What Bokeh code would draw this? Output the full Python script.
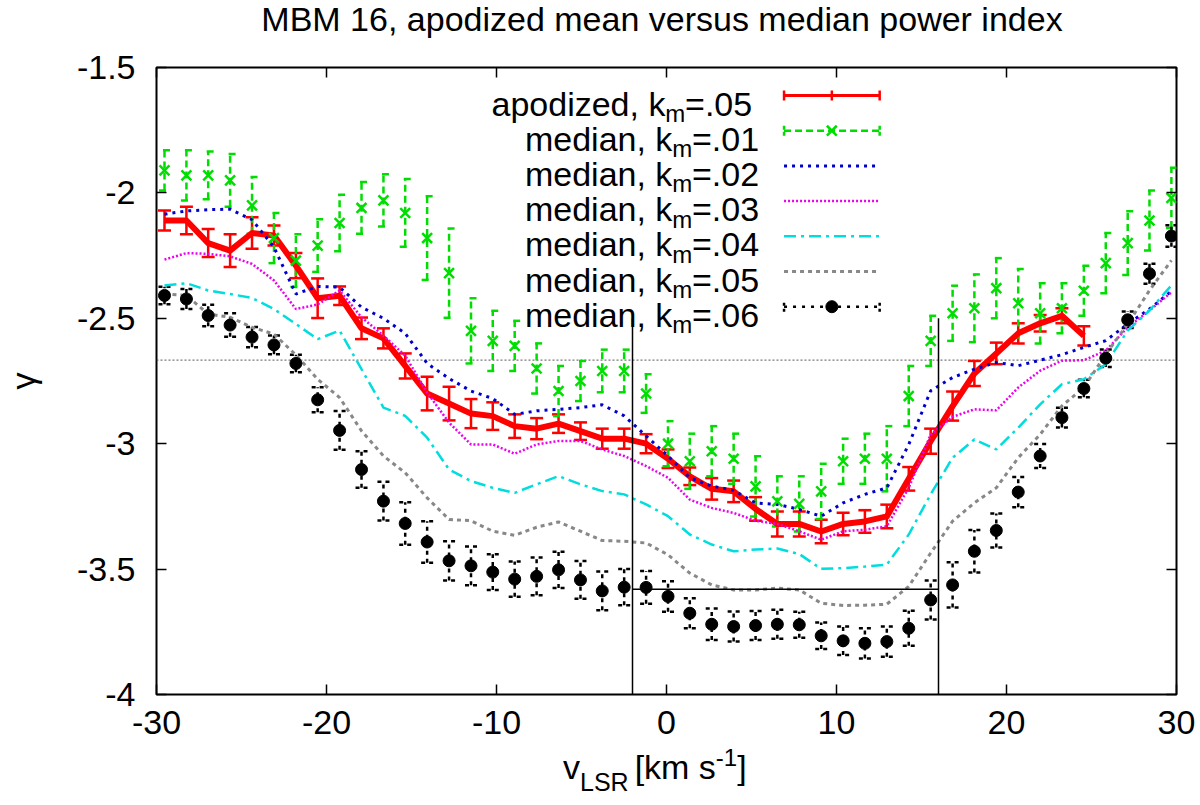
import numpy as np

from bokeh.plotting import figure
from bokeh.layouts import column
from bokeh.models import (ColumnDataSource, FixedTicker, LinearAxis, Range1d,
                          Span, Label, Whisker, TeeHead, Div)
from bokeh.embed import file_html
from bokeh.resources import INLINE

# channel velocities, km/s
v_lsr = [-29.53, -28.24, -26.96, -25.67, -24.38, -23.09, -21.80, -20.52, -19.23, -17.94,
         -16.65, -15.37, -14.08, -12.79, -11.50, -10.22, -8.93, -7.64, -6.35, -5.06,
         -3.78, -2.49, -1.20, 0.09, 1.37, 2.66, 3.95, 5.24, 6.52, 7.81,
         9.10, 10.39, 11.67, 12.96, 14.25, 15.54, 16.83, 18.11, 19.40, 20.69,
         21.98, 23.26, 24.55, 25.84, 27.13, 28.41, 29.70]

# apodized mean, k_m=.05 (stops at ~24.5 km/s)
gamma_apod = [-2.11, -2.11, -2.20, -2.23, -2.16, -2.17, -2.29, -2.42, -2.41, -2.54,
              -2.58, -2.69, -2.80, -2.84, -2.88, -2.89, -2.93, -2.94, -2.92, -2.95,
              -2.98, -2.98, -3.00, -3.06, -3.13, -3.18, -3.19, -3.26, -3.32, -3.32,
              -3.35, -3.32, -3.31, -3.29, -3.14, -2.99, -2.85, -2.72, -2.64, -2.56,
              -2.52, -2.49, -2.57]
err_apod = [0.040, 0.055, 0.056, 0.065, 0.063, 0.040, 0.050, 0.079, 0.037, 0.043,
            0.040, 0.050, 0.067, 0.067, 0.058, 0.055, 0.047, 0.042, 0.037, 0.035,
            0.040, 0.040, 0.038, 0.037, 0.035, 0.043, 0.043, 0.047, 0.050, 0.050,
            0.047, 0.045, 0.045, 0.047, 0.047, 0.050, 0.058, 0.050, 0.043, 0.040,
            0.033, 0.030, 0.038]

# median, k_m=.01 .. .06
gamma_k01 = [-1.91, -1.93, -1.93, -1.95, -2.05, -2.18, -2.27, -2.21, -2.12, -2.06,
             -2.03, -2.08, -2.18, -2.32, -2.55, -2.59, -2.61, -2.70, -2.79, -2.75,
             -2.71, -2.71, -2.80, -3.00, -3.07, -3.03, -3.06, -3.17, -3.23, -3.24,
             -3.19, -3.07, -3.06, -3.06, -2.81, -2.59, -2.48, -2.46, -2.38, -2.44,
             -2.48, -2.46, -2.39, -2.28, -2.20, -2.11, -2.02]
err_k01 = [0.080, 0.100, 0.095, 0.105, 0.113, 0.100, 0.105, 0.105, 0.113, 0.103,
           0.104, 0.135, 0.167, 0.178, 0.130, 0.120, 0.100, 0.100, 0.100, 0.080,
           0.085, 0.085, 0.077, 0.090, 0.110, 0.100, 0.100, 0.120, 0.100, 0.110,
           0.110, 0.090, 0.100, 0.130, 0.120, 0.100, 0.110, 0.135, 0.120, 0.137,
           0.120, 0.100, 0.100, 0.120, 0.127, 0.120, 0.120]
gamma_k02 = [-2.085, -2.072, -2.067, -2.065, -2.107, -2.216, -2.403, -2.373, -2.376, -2.456,
             -2.500, -2.560, -2.680, -2.740, -2.790, -2.820, -2.883, -2.869, -2.863, -2.856,
             -2.845, -2.889, -2.969, -3.049, -3.136, -3.169, -3.186, -3.236, -3.242, -3.262,
             -3.289, -3.236, -3.202, -3.176, -3.003, -2.789, -2.736, -2.703, -2.676, -2.689,
             -2.667, -2.645, -2.616, -2.589, -2.523, -2.463, -2.392]
gamma_k03 = [-2.266, -2.240, -2.243, -2.253, -2.283, -2.349, -2.463, -2.445, -2.389, -2.496,
             -2.569, -2.649, -2.796, -2.916, -3.003, -3.003, -3.040, -3.003, -2.989, -2.989,
             -3.023, -3.049, -3.089, -3.136, -3.223, -3.256, -3.276, -3.307, -3.320, -3.349,
             -3.383, -3.349, -3.343, -3.329, -3.176, -2.963, -2.893, -2.863, -2.867, -2.776,
             -2.709, -2.669, -2.667, -2.629, -2.536, -2.469, -2.396]
gamma_k04 = [-2.369, -2.360, -2.389, -2.403, -2.419, -2.463, -2.523, -2.583, -2.549, -2.703,
             -2.856, -2.889, -2.976, -3.103, -3.149, -3.176, -3.196, -3.162, -3.129, -3.162,
             -3.189, -3.202, -3.242, -3.289, -3.362, -3.402, -3.429, -3.422, -3.418, -3.440,
             -3.499, -3.496, -3.490, -3.482, -3.362, -3.202, -3.056, -2.983, -3.023, -2.936,
             -2.843, -2.763, -2.743, -2.683, -2.549, -2.469, -2.369]
gamma_k05 = [-2.403, -2.409, -2.483, -2.496, -2.536, -2.563, -2.646, -2.743, -2.816, -2.949,
             -3.049, -3.116, -3.216, -3.302, -3.307, -3.349, -3.365, -3.333, -3.312, -3.349,
             -3.386, -3.389, -3.396, -3.443, -3.516, -3.563, -3.583, -3.583, -3.576, -3.583,
             -3.636, -3.645, -3.644, -3.640, -3.569, -3.436, -3.309, -3.236, -3.176, -3.056,
             -2.963, -2.849, -2.776, -2.643, -2.523, -2.389, -2.269]
gamma_k06 = [-2.409, -2.423, -2.489, -2.527, -2.575, -2.606, -2.680, -2.825, -2.947, -3.103,
             -3.229, -3.318, -3.392, -3.467, -3.487, -3.512, -3.540, -3.529, -3.503, -3.543,
             -3.587, -3.572, -3.573, -3.609, -3.676, -3.720, -3.729, -3.725, -3.720, -3.722,
             -3.766, -3.786, -3.796, -3.789, -3.736, -3.623, -3.563, -3.429, -3.346, -3.193,
             -3.049, -2.896, -2.780, -2.659, -2.506, -2.322, -2.172]
err_k06 = [0.035, 0.040, 0.043, 0.047, 0.040, 0.037, 0.035, 0.050, 0.077, 0.073,
           0.077, 0.085, 0.083, 0.078, 0.077, 0.071, 0.070, 0.075, 0.072, 0.075,
           0.077, 0.072, 0.065, 0.061, 0.060, 0.063, 0.060, 0.058, 0.058, 0.052,
           0.053, 0.057, 0.060, 0.060, 0.070, 0.078, 0.090, 0.085, 0.068, 0.060,
           0.048, 0.039, 0.035, 0.035, 0.033, 0.040, 0.043]

x_ticks = [-30, -20, -10, 0, 10, 20, 30]
y_ticks = [-4, -3.5, -3, -2.5, -2, -1.5]
y_tick_labels = ["-4", "-3.5", "-3", "-2.5", "-2", "-1.5"]

gamma_kolmogorov = -8 / 3
window_v = [-2, 16]
window_top = -2.5
window_floor = -3.58

legend_texts = [("apodized, k", "m", "=.05"), ("median, k", "m", "=.01"),
                ("median, k", "m", "=.02"), ("median, k", "m", "=.03"),
                ("median, k", "m", "=.04"), ("median, k", "m", "=.05"),
                ("median, k", "m", "=.06")]

RED, GREEN, BLUE, MAGENTA, CYAN, GREY = "#ff0000", "#00dd00", "#0000cc", "#ee00ee", "#00dddd", "#888888"
FONT = "Liberation Sans"

X0, X1, Y0, Y1 = -30, 30, -4, -1.5
# frame position on the page, used only to place the key
FRAME_L, FRAME_T, FRAME_W, FRAME_H = 152, 67, 1024, 627
TITLE_H = 40


def dx(px):
    return X0 + (px - FRAME_L) * (X1 - X0) / FRAME_W


def dy(py):
    return Y1 - (py - FRAME_T) * (Y1 - Y0) / FRAME_H


p = figure(width=1200, height=712, x_range=Range1d(X0, X1), y_range=Range1d(Y0, Y1),
           output_backend="svg", toolbar_location=None, tools="",
           min_border_left=152, min_border_right=24, min_border_top=FRAME_T - TITLE_H,
           min_border_bottom=58)
p.outline_line_color = "black"
p.outline_line_width = 2
p.xgrid.grid_line_color = None
p.ygrid.grid_line_color = None

p.xaxis.ticker = FixedTicker(ticks=x_ticks)
p.xaxis.major_label_overrides = {t: str(t) for t in x_ticks}
p.xaxis.major_label_standoff = 16
p.yaxis.ticker = FixedTicker(ticks=y_ticks)
p.yaxis.major_label_overrides = dict(zip(y_ticks, y_tick_labels))
p.yaxis.major_label_standoff = 21
p.yaxis.axis_label = "\u03b3"
p.yaxis.axis_label_text_font = FONT
p.yaxis.axis_label_text_font_size = "34px"
p.yaxis.axis_label_text_font_style = "normal"
p.yaxis.axis_label_text_color = "black"
p.yaxis.axis_label_standoff = 32
for ax in (p.xaxis, p.yaxis):
    ax.major_label_text_font = FONT
    ax.major_label_text_font_size = "34px"
    ax.major_label_text_color = "black"
    ax.axis_line_color = None
    ax.major_tick_in = 10
    ax.major_tick_out = 0
    ax.major_tick_line_color = "black"
    ax.major_tick_line_width = 1.5
    ax.minor_tick_line_color = None

# mirrored ticks on top and right, no labels
for side, ticks in (("above", x_ticks), ("right", y_ticks)):
    ax = LinearAxis(ticker=FixedTicker(ticks=ticks), axis_line_color=None,
                    major_tick_in=10, major_tick_out=0, major_tick_line_width=1.5,
                    minor_tick_line_color=None, major_label_text_font_size="0px",
                    major_label_text_color=None, major_label_standoff=0,
                    major_label_overrides={t: "" for t in ticks})
    p.add_layout(ax, side)

p.add_layout(Span(location=gamma_kolmogorov, dimension="width", line_color="#555555",
                  line_width=1, line_dash="2 2", level="underlay"))

# error bars
v = np.array(v_lsr)
n_apod = len(gamma_apod)
src_apod = ColumnDataSource(dict(v=v[:n_apod], g=gamma_apod,
                                 lo=np.array(gamma_apod) - np.array(err_apod),
                                 hi=np.array(gamma_apod) + np.array(err_apod)))
src_k01 = ColumnDataSource(dict(v=v, g=gamma_k01,
                                lo=np.array(gamma_k01) - np.array(err_k01),
                                hi=np.array(gamma_k01) + np.array(err_k01)))
src_k06 = ColumnDataSource(dict(v=v, g=gamma_k06,
                                lo=np.array(gamma_k06) - np.array(err_k06),
                                hi=np.array(gamma_k06) + np.array(err_k06)))


def bars(src, color, width, dash, cap):
    head = dict(size=cap, line_color=color, line_width=width, line_dash=dash)
    p.add_layout(Whisker(source=src, base="v", lower="lo", upper="hi", dimension="height",
                         line_color=color, line_width=width, line_dash=dash,
                         lower_head=TeeHead(**head), upper_head=TeeHead(**head)))


bars(src_apod, RED, 2.5, "solid", 13)
bars(src_k01, GREEN, 2.5, "7 4", 11)
bars(src_k06, "black", 2.5, "4 4", 12)

# lines
p.line("v", "g", source=src_apod, line_color=RED, line_width=6, line_join="round")
styles = [(gamma_k02, BLUE, 3, "3 5"), (gamma_k03, MAGENTA, 2.5, "2 2"),
          (gamma_k04, CYAN, 2.5, "12 5 3 5"), (gamma_k05, GREY, 3, "4 4")]
for g, c, w, d in styles:
    p.line(v_lsr, g, line_color=c, line_width=w, line_dash=d)

# velocity window used for the fit
p.segment(x0=[window_v[0], window_v[1], window_v[0]], y0=[Y0, Y0, window_floor],
          x1=[window_v[0], window_v[1], window_v[1]], y1=[window_top, window_top, window_floor],
          line_color="black", line_width=1.5)

p.scatter("v", "g", source=src_k01, marker="x", size=14, line_color=GREEN, line_width=2.5)
p.scatter("v", "g", source=src_k06, marker="circle", size=12, fill_color="black",
          line_color="black")


def add_text(px, py, text, size, align="left"):
    p.add_layout(Label(x=dx(px), y=dy(py), text=text, text_font=FONT,
                       text_font_size=f"{size}px", text_align=align,
                       text_baseline="alphabetic", text_color="black"))


# key, drawn by hand for the subscripts
ROW0, ROW_STEP = 95, 35.2
S0, S1, SM = 782, 878, 830
W_TAIL = 1.974 * 34   # width of "=.05"
W_SUB = 0.833 * 24    # width of subscript "m"
for k, (head, sub, tail) in enumerate(legend_texts):
    r = ROW0 + k * ROW_STEP
    right = 750 if k == 0 else 757
    add_text(right, r + 8, tail, 34, "right")
    add_text(right - W_TAIL, r + 18, sub, 24, "right")
    add_text(right - W_TAIL - W_SUB, r + 8, head, 34, "right")

rows = [dy(ROW0 + k * ROW_STEP) for k in range(7)]
caph = 5 * (Y1 - Y0) / FRAME_H
p.segment(x0=[dx(S0)], y0=[rows[0]], x1=[dx(S1)], y1=[rows[0]], line_color=RED, line_width=3)
p.segment(x0=[dx(S0), dx(SM), dx(S1)], y0=[rows[0] - caph] * 3,
          x1=[dx(S0), dx(SM), dx(S1)], y1=[rows[0] + caph] * 3, line_color=RED, line_width=2.5)
p.segment(x0=[dx(S0)], y0=[rows[1]], x1=[dx(S1)], y1=[rows[1]], line_color=GREEN,
          line_width=2.5, line_dash="7 4")
p.segment(x0=[dx(S0), dx(S1)], y0=[rows[1] - caph] * 2, x1=[dx(S0), dx(S1)],
          y1=[rows[1] + caph] * 2, line_color=GREEN, line_width=2.5, line_dash="4 2")
p.scatter([dx(SM)], [rows[1]], marker="x", size=14, line_color=GREEN, line_width=2.5)
for k, (g, c, w, d) in enumerate(styles):
    p.segment(x0=[dx(S0)], y0=[rows[k + 2]], x1=[dx(S1)], y1=[rows[k + 2]],
              line_color=c, line_width=w, line_dash=d)
p.segment(x0=[dx(S0)], y0=[rows[6]], x1=[dx(S1)], y1=[rows[6]], line_color="black",
          line_width=2.5, line_dash="3 6")
p.segment(x0=[dx(S0), dx(S1)], y0=[rows[6] - caph] * 2, x1=[dx(S0), dx(S1)],
          y1=[rows[6] + caph] * 2, line_color="black", line_width=2.5, line_dash="3 3")
p.scatter([dx(SM)], [rows[6]], marker="circle", size=12, fill_color="black", line_color="black")

# title and x axis title as HTML text above and under the plot
title = Div(text=("<div style=\"font-family:'Liberation Sans';font-size:34px;line-height:38px;"
                  "width:1076px;white-space:nowrap;color:black;text-align:center\">"
                  "MBM 16, apodized mean versus median power index</div>"),
            width=1076, height=TITLE_H, margin=(0, 0, 0, 124))
xlabel = Div(text=("<span style=\"font-family:'Liberation Sans';font-size:34px;"
                   "line-height:30px;white-space:nowrap;color:black\">v"
                   "<span style=\"font-size:25px;position:relative;top:12px;margin-right:6px\">LSR</span>"
                   "[km s<span style=\"font-size:24px;position:relative;top:-13px\">-1</span>]</span>"),
             width=637, height=53, margin=(0, 0, 0, 563))

layout = column(title, p, xlabel)
open("out.html", "w").write(file_html(layout, INLINE))
